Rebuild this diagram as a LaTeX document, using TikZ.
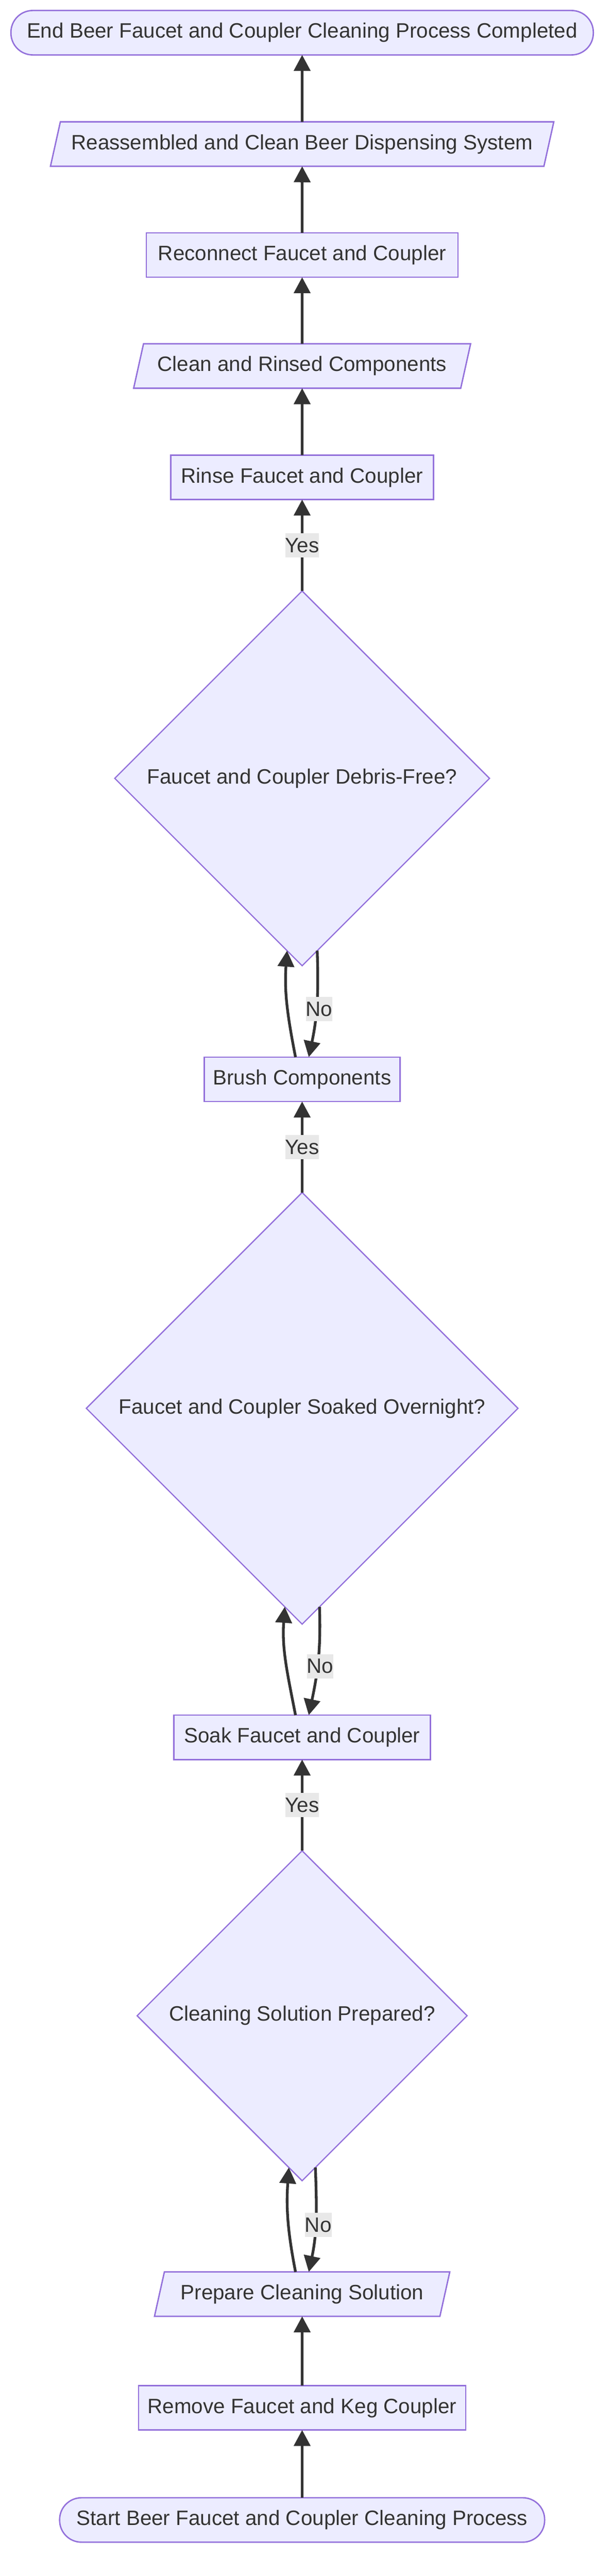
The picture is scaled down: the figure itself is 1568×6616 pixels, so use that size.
\documentclass[tikz,border=0pt]{standalone}
\usepackage{fontspec}
\setmainfont{Liberation Sans}
\usetikzlibrary{shapes.geometric,arrows.meta}
\definecolor{nodefill}{HTML}{ECECFF}
\definecolor{nodeline}{HTML}{9370DB}
\definecolor{edgeline}{HTML}{333333}
\definecolor{labelfill}{HTML}{E8E8E8}

\begin{document}
\begin{tikzpicture}[x=0.01cm, y=0.01cm]
		\tikzstyle{every node}+=[inner sep=0pt, outer sep=0pt, text=edgeline, font=\fontsize{15.2pt}{18pt}\selectfont]
		\tikzstyle{box}=[draw=nodeline, fill=nodefill, line width=1pt, rectangle, minimum height=1.14cm]
		\tikzstyle{term}=[box, rounded corners=0.56cm]
		\tikzstyle{io}=[box, trapezium, trapezium left angle=63, trapezium right angle=117, trapezium stretches body]
		\tikzstyle{decision}=[draw=nodeline, fill=nodefill, line width=0.9pt, diamond, aspect=1]
		\tikzstyle{flow}=[draw=edgeline, line width=2pt, -{Triangle[length=0.41cm,width=0.42cm]}]
		\tikzstyle{answer}=[fill=labelfill, inner xsep=0pt, minimum height=0.62cm]
		\useasboundingbox (0,0) rectangle (1568,-6616);
		\node [term, minimum width=14.95cm] (finish) at (776,-84) {End Beer Faucet and Coupler Cleaning Process Completed};
		\node [io, minimum width=12.92cm] (system) at (776,-370) {Reassembled and Clean Beer Dispensing System};
		\node [box, minimum width=8cm] (reconnect) at (776,-655) {Reconnect Faucet and Coupler};
		\node [io, minimum width=8.65cm] (rinsed) at (776,-940) {Clean and Rinsed Components};
		\node [box, minimum width=6.75cm] (rinse) at (776,-1226) {Rinse Faucet and Coupler};
		\node [decision, minimum width=9.62cm, minimum height=9.62cm] (debris) at (776,-1999) {Faucet and Coupler Debris-Free?};
		\node [box, minimum width=5.03cm] (brush) at (776,-2772) {Brush Components};
		\node [decision, minimum width=11.08cm, minimum height=11.08cm] (soaked) at (776,-3617) {Faucet and Coupler Soaked Overnight?};
		\node [box, minimum width=6.58cm] (soak) at (776,-4462) {Soak Faucet and Coupler};
		\node [decision, minimum width=8.47cm, minimum height=8.47cm] (prepared) at (776,-5177) {Cleaning Solution Prepared?};
		\node [io, minimum width=7.58cm] (solution) at (776,-5892) {Prepare Cleaning Solution};
		\node [box, minimum width=8.4cm] (remove) at (776,-6184) {Remove Faucet and Keg Coupler};
		\node [term, minimum width=12.45cm] (start) at (776,-6472) {Start Beer Faucet and Coupler Cleaning Process};
		\draw [flow] (start) -- (remove);
		\draw [flow] (remove) -- (solution);
		\draw [flow] ([xshift=-0.17cm]solution.north) to[out=101,in=-94] (prepared.-95);
		\draw [flow] (prepared.-85) to[out=-88,in=78] node[answer, pos=0.55, xshift=0.07cm] {No} ([xshift=0.17cm]solution.north);
		\draw [flow] (prepared) -- node[answer] {Yes} (soak);
		\draw [flow] ([xshift=-0.17cm]soak.north) to[out=101,in=-94] (soaked.-95);
		\draw [flow] (soaked.-85) to[out=-88,in=78] node[answer, pos=0.55, xshift=0.07cm] {No} ([xshift=0.17cm]soak.north);
		\draw [flow] (soaked) -- node[answer] {Yes} (brush);
		\draw [flow] ([xshift=-0.17cm]brush.north) to[out=101,in=-94] (debris.-95);
		\draw [flow] (debris.-85) to[out=-88,in=78] node[answer, pos=0.55, xshift=0.07cm] {No} ([xshift=0.17cm]brush.north);
		\draw [flow] (debris) -- node[answer] {Yes} (rinse);
		\draw [flow] (rinse) -- (rinsed);
		\draw [flow] (rinsed) -- (reconnect);
		\draw [flow] (reconnect) -- (system);
		\draw [flow] (system) -- (finish);
	\end{tikzpicture}
\end{document}
